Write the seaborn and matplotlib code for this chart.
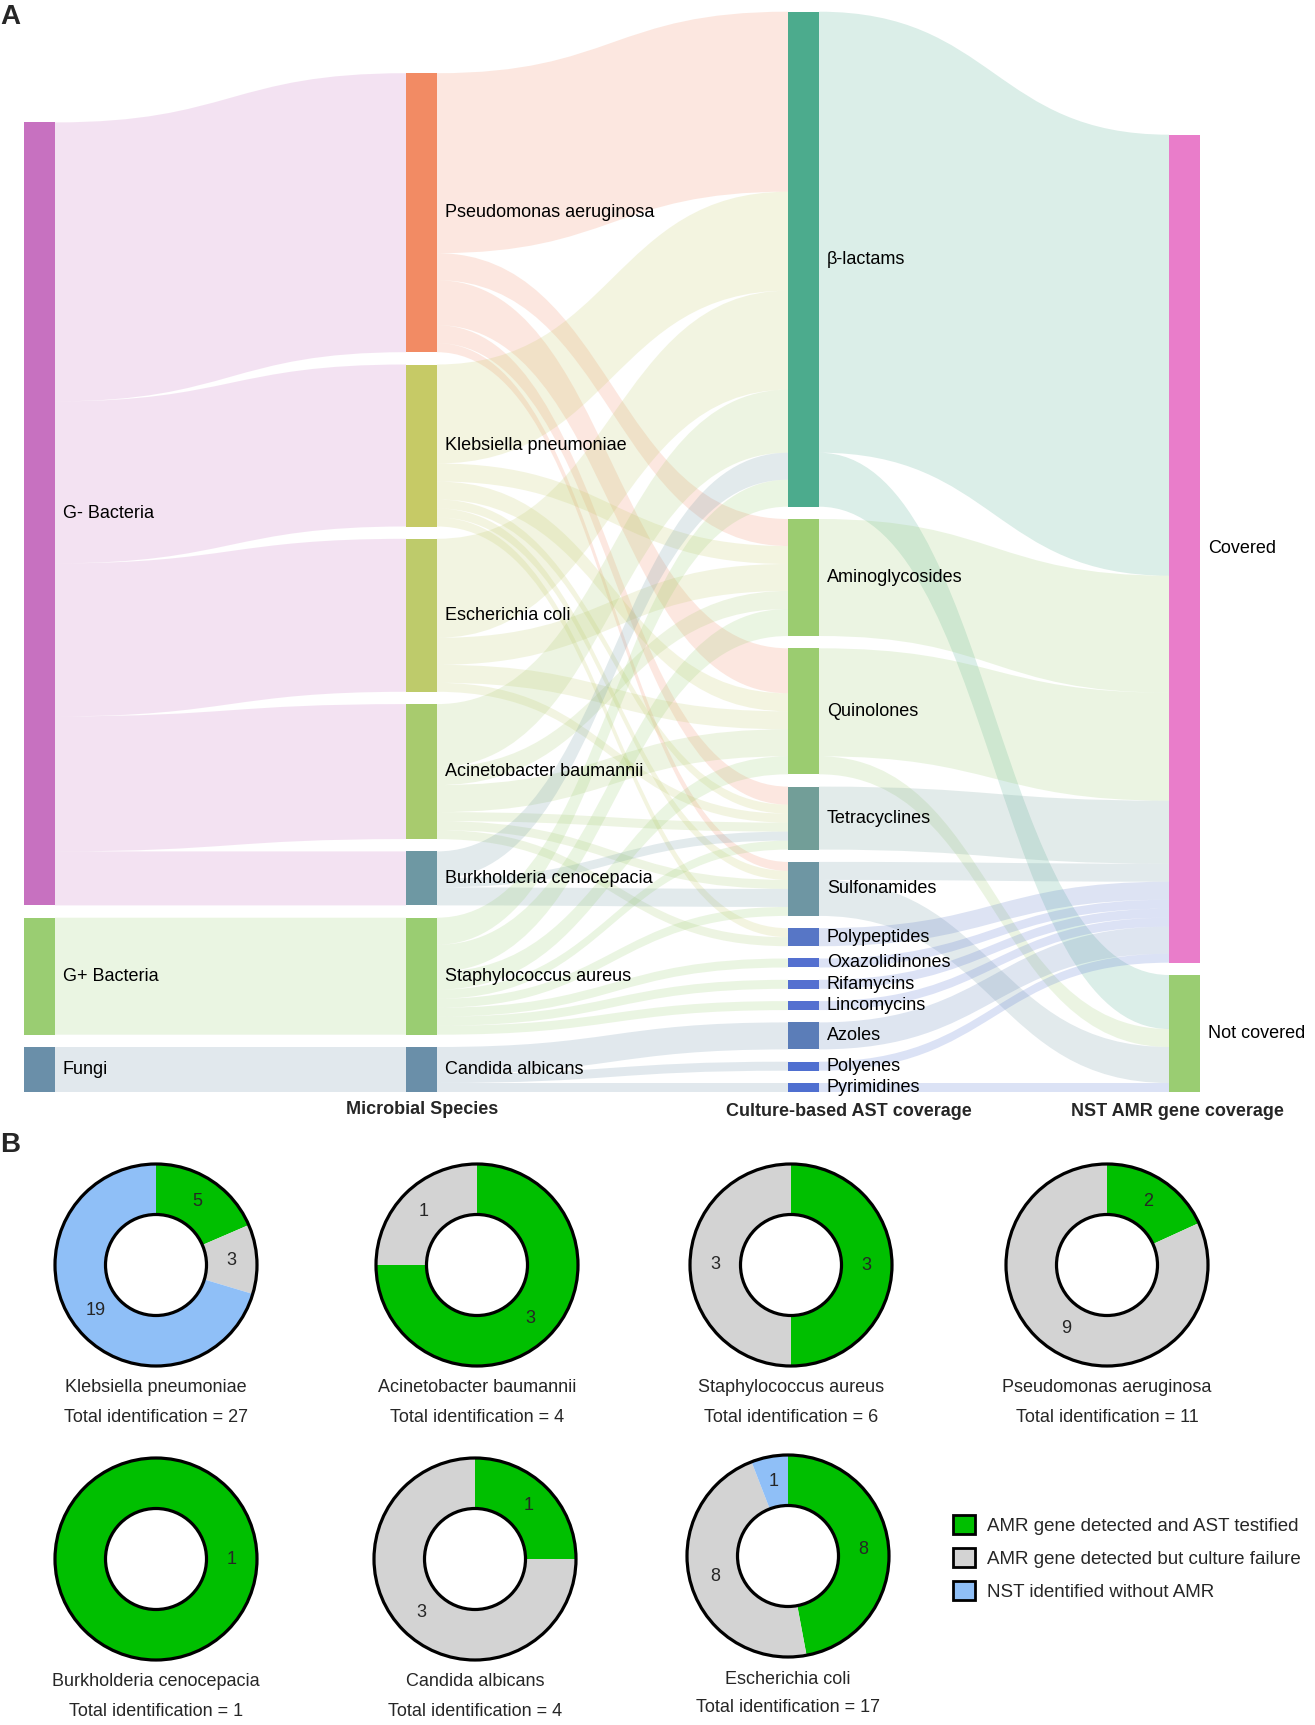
# Sankey of NST / culture AST coverage (panel A) + donuts per species (panel B)
import pandas as pd
import matplotlib
matplotlib.use("Agg")
import matplotlib.pyplot as plt
import seaborn as sns
from matplotlib.path import Path
from matplotlib.patches import PathPatch, Patch, Circle

# ============================================
# Data - panel A (sankey)
# ============================================
groups = ["G- Bacteria", "G+ Bacteria", "Fungi"]
species = ["Pseudomonas aeruginosa", "Klebsiella pneumoniae", "Escherichia coli",
           "Acinetobacter baumannii", "Burkholderia cenocepacia",
           "Staphylococcus aureus", "Candida albicans"]
drug_classes = ["β-lactams", "Aminoglycosides", "Quinolones", "Tetracyclines",
                "Sulfonamides", "Polypeptides", "Oxazolidinones", "Rifamycins",
                "Lincomycins", "Azoles", "Polyenes", "Pyrimidines"]
coverage = ["Covered", "Not covered"]

group_links = [
    ("G- Bacteria", "Pseudomonas aeruginosa", 31),
    ("G- Bacteria", "Klebsiella pneumoniae", 18),
    ("G- Bacteria", "Escherichia coli", 17),
    ("G- Bacteria", "Acinetobacter baumannii", 15),
    ("G- Bacteria", "Burkholderia cenocepacia", 6),
    ("G+ Bacteria", "Staphylococcus aureus", 13),
    ("Fungi", "Candida albicans", 5),
]

class_links = [
    ("Pseudomonas aeruginosa", "β-lactams", 20),
    ("Pseudomonas aeruginosa", "Aminoglycosides", 3),
    ("Pseudomonas aeruginosa", "Quinolones", 5),
    ("Pseudomonas aeruginosa", "Tetracyclines", 2),
    ("Pseudomonas aeruginosa", "Sulfonamides", 1),
    ("Klebsiella pneumoniae", "β-lactams", 11),
    ("Klebsiella pneumoniae", "Aminoglycosides", 2),
    ("Klebsiella pneumoniae", "Quinolones", 2),
    ("Klebsiella pneumoniae", "Tetracyclines", 1),
    ("Klebsiella pneumoniae", "Sulfonamides", 1),
    ("Klebsiella pneumoniae", "Polypeptides", 1),
    ("Escherichia coli", "β-lactams", 11),
    ("Escherichia coli", "Aminoglycosides", 3),
    ("Escherichia coli", "Quinolones", 2),
    ("Escherichia coli", "Tetracyclines", 1),
    ("Acinetobacter baumannii", "β-lactams", 7),
    ("Acinetobacter baumannii", "Aminoglycosides", 2),
    ("Acinetobacter baumannii", "Quinolones", 3),
    ("Acinetobacter baumannii", "Tetracyclines", 1),
    ("Acinetobacter baumannii", "Sulfonamides", 1),
    ("Acinetobacter baumannii", "Polypeptides", 1),
    ("Burkholderia cenocepacia", "β-lactams", 3),
    ("Burkholderia cenocepacia", "Tetracyclines", 1),
    ("Burkholderia cenocepacia", "Sulfonamides", 2),
    ("Staphylococcus aureus", "β-lactams", 3),
    ("Staphylococcus aureus", "Aminoglycosides", 3),
    ("Staphylococcus aureus", "Quinolones", 2),
    ("Staphylococcus aureus", "Tetracyclines", 1),
    ("Staphylococcus aureus", "Sulfonamides", 1),
    ("Staphylococcus aureus", "Oxazolidinones", 1),
    ("Staphylococcus aureus", "Rifamycins", 1),
    ("Staphylococcus aureus", "Lincomycins", 1),
    ("Candida albicans", "Azoles", 3),
    ("Candida albicans", "Polyenes", 1),
    ("Candida albicans", "Pyrimidines", 1),
]

coverage_links = [
    ("β-lactams", "Covered", 49),
    ("β-lactams", "Not covered", 6),
    ("Aminoglycosides", "Covered", 13),
    ("Quinolones", "Covered", 12),
    ("Quinolones", "Not covered", 2),
    ("Tetracyclines", "Covered", 7),
    ("Sulfonamides", "Covered", 2),
    ("Sulfonamides", "Not covered", 4),
    ("Polypeptides", "Covered", 2),
    ("Oxazolidinones", "Covered", 1),
    ("Rifamycins", "Covered", 1),
    ("Lincomycins", "Covered", 1),
    ("Azoles", "Covered", 3),
    ("Polyenes", "Covered", 1),
    ("Pyrimidines", "Not covered", 1),
]

node_colors = {
    "G- Bacteria": "#c771c0", "G+ Bacteria": "#9acd72", "Fungi": "#6a8fa9",
    "Pseudomonas aeruginosa": "#f28b64", "Klebsiella pneumoniae": "#c6ca66",
    "Escherichia coli": "#becb6b", "Acinetobacter baumannii": "#a8cb6e",
    "Burkholderia cenocepacia": "#6e98a3", "Staphylococcus aureus": "#9acd72",
    "Candida albicans": "#6a8fa9",
    "β-lactams": "#4cab8d", "Aminoglycosides": "#9bcc70", "Quinolones": "#9bcc70",
    "Tetracyclines": "#729e98", "Sulfonamides": "#6e96a3", "Polypeptides": "#5776c6",
    "Oxazolidinones": "#5470d0", "Rifamycins": "#5470d0", "Lincomycins": "#5470d0",
    "Azoles": "#5b7db8", "Polyenes": "#4f6fd0", "Pyrimidines": "#4f6fd0",
    "Covered": "#e97dca", "Not covered": "#9acd72",
}

# ============================================
# Data - panel B (donuts)
# ============================================
donut_species = ["Klebsiella pneumoniae", "Acinetobacter baumannii",
                 "Staphylococcus aureus", "Pseudomonas aeruginosa",
                 "Burkholderia cenocepacia", "Candida albicans", "Escherichia coli"]
amr_ast = [5, 3, 3, 2, 1, 1, 8]
amr_culture_fail = [3, 1, 3, 9, 0, 3, 8]
nst_no_amr = [19, 0, 0, 0, 0, 0, 1]

legend_labels = ["AMR gene detected and AST testified",
                 "AMR gene detected but culture failure",
                 "NST identified without AMR"]
donut_colors = ["#00bf00", "#d3d3d3", "#8fbff7"]

# ============================================
# Style
# ============================================
sns.set_theme(style="white")
plt.rcParams["font.family"] = ["Liberation Sans", "DejaVu Sans"]
narrow = ["Liberation Sans Narrow", "Liberation Sans", "DejaVu Sans"]

W, H = 1315, 1725
fig = plt.figure(figsize=(W / 100, H / 100), dpi=100)
ax = fig.add_axes([0, 0, 1, 1])
ax.set_xlim(0, W)
ax.set_ylim(H, 0)
ax.axis("off")

# ============================================
# Sankey layout
# ============================================
columns = [groups, species, drug_classes, coverage]
col_x = [24, 406, 788, 1169]
node_w = 31
unit = 9.0       # px per identification
pad = 12.3       # px between nodes
base = 1092      # bottom of every column

links = pd.DataFrame(group_links + class_links + coverage_links,
                     columns=["source", "target", "value"])
out_sum = links.groupby("source")["value"].sum()
in_sum = links.groupby("target")["value"].sum()

node_val, node_top, node_col = {}, {}, {}
for ci, col in enumerate(columns):
    for n in col:
        node_val[n] = max(out_sum.get(n, 0), in_sum.get(n, 0))
    total = sum(node_val[n] for n in col) * unit + pad * (len(col) - 1)
    y = base - total
    for n in col:
        node_top[n] = y
        node_col[n] = ci
        y += node_val[n] * unit + pad

# link offsets at both ends
links["s_y"] = 0.0
links["t_y"] = 0.0
for n, grp in links.groupby("source"):
    off = node_top[n]
    for idx in grp.sort_values("target", key=lambda s: s.map(node_top)).index:
        links.loc[idx, "s_y"] = off
        off += links.loc[idx, "value"] * unit
for n, grp in links.groupby("target"):
    off = node_top[n]
    for idx in grp.sort_values("source", key=lambda s: s.map(node_top)).index:
        links.loc[idx, "t_y"] = off
        off += links.loc[idx, "value"] * unit

# links
for _, r in links.iterrows():
    x0 = col_x[node_col[r["source"]]] + node_w
    x1 = col_x[node_col[r["target"]]]
    xm = (x0 + x1) / 2
    h = r["value"] * unit
    y0, y1 = r["s_y"], r["t_y"]
    verts = [(x0, y0), (xm, y0), (xm, y1), (x1, y1),
             (x1, y1 + h), (xm, y1 + h), (xm, y0 + h), (x0, y0 + h), (x0, y0)]
    codes = [Path.MOVETO, Path.CURVE4, Path.CURVE4, Path.CURVE4,
             Path.LINETO, Path.CURVE4, Path.CURVE4, Path.CURVE4, Path.CLOSEPOLY]
    ax.add_patch(PathPatch(Path(verts, codes), facecolor=node_colors[r["source"]],
                           edgecolor="none", alpha=0.2))

# nodes + labels
for n in node_val:
    ci = node_col[n]
    h = node_val[n] * unit
    ax.bar(col_x[ci], h, width=node_w, bottom=node_top[n], align="edge",
           color=node_colors[n], linewidth=0)
    ax.text(col_x[ci] + node_w + 8, node_top[n] + h / 2, n,
            ha="left", va="center", fontsize=13, color="black")

ax.text(422, 1109, "Microbial Species", ha="center", va="center",
        fontsize=13, fontweight="bold")
ax.text(849, 1112, "Culture-based AST coverage", ha="center", va="center",
        fontsize=13, fontweight="bold")
ax.text(1177, 1112, "NST AMR gene coverage", ha="center", va="center",
        fontsize=13, fontweight="bold")
ax.text(0, 17, "A", ha="left", va="center", fontsize=20, fontweight="bold")
ax.text(0, 1145, "B", ha="left", va="center", fontsize=20, fontweight="bold")

# ============================================
# Donuts
# ============================================
centers = [(156, 1265), (477, 1265), (791, 1265), (1107, 1265),
           (156, 1559), (475, 1559), (788, 1556)]
R = 101
lim = 1.06

for i, name in enumerate(donut_species):
    vals = [amr_ast[i], amr_culture_fail[i], nst_no_amr[i]]
    tot = sum(vals)
    cx, cy = centers[i]
    s = R * lim
    # a single full ring gets its label on the right side
    start = 90 if sum(v > 0 for v in vals) > 1 else 180
    dax = fig.add_axes([(cx - s) / W, 1 - (cy + s) / H, 2 * s / W, 2 * s / H])
    dax.pie(vals, colors=donut_colors, startangle=start, counterclock=False,
            radius=1, wedgeprops=dict(width=0.5, linewidth=0),
            autopct=lambda p, t=tot: f"{round(p * t / 100)}" if p > 0 else "",
            pctdistance=0.75, textprops=dict(fontsize=13, family=narrow))
    dax.add_patch(Circle((0, 0), 1, fill=False, ec="black", lw=2.3))
    dax.add_patch(Circle((0, 0), 0.5, fill=False, ec="black", lw=2.3))
    dax.set_xlim(-lim, lim)
    dax.set_ylim(-lim, lim)
    dax.axis("off")
    ax.text(cx, cy + 123, name, ha="center", va="center", fontsize=13, family=narrow)
    ax.text(cx, cy + 152, f"Total identification = {tot}", ha="center",
            va="center", fontsize=13, family=narrow)

handles = [Patch(facecolor=c, edgecolor="black", linewidth=2) for c in donut_colors]
fig.legend(handles, legend_labels, loc="upper left",
           bbox_to_anchor=(936 / W, 1 - 1498 / H), frameon=False,
           handlelength=1.2, handleheight=1.2, handletextpad=0.6,
           labelspacing=0.7, prop=dict(family=narrow, size=13.5))

fig.savefig("out.png", dpi=100)
